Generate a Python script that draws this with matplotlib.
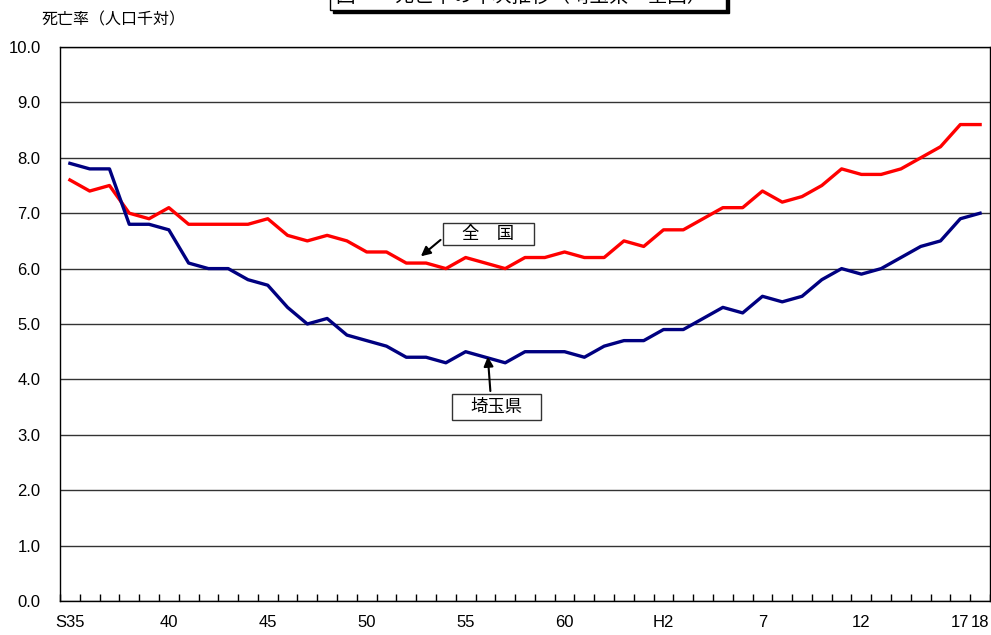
import matplotlib
matplotlib.use('Agg')
import matplotlib.pyplot as plt
from matplotlib.patches import Rectangle
import numpy as np

plt.rcParams['font.family'] = ['Liberation Sans', 'Noto Sans CJK JP', 'DejaVu Sans']
jp = ['Noto Sans CJK JP', 'DejaVu Sans']

# 昭和35年(1960) ～ 平成18年(2006)
years = list(range(1960, 2007))
saitama = [7.9, 7.8, 7.8, 6.8, 6.8, 6.7, 6.1, 6.0, 6.0, 5.8,
           5.7, 5.3, 5.0, 5.1, 4.8, 4.7, 4.6, 4.4, 4.4, 4.3,
           4.5, 4.4, 4.3, 4.5, 4.5, 4.5, 4.4, 4.6, 4.7, 4.7,
           4.9, 4.9, 5.1, 5.3, 5.2, 5.5, 5.4, 5.5, 5.8, 6.0,
           5.9, 6.0, 6.2, 6.4, 6.5, 6.9, 7.0]
zenkoku = [7.6, 7.4, 7.5, 7.0, 6.9, 7.1, 6.8, 6.8, 6.8, 6.8,
           6.9, 6.6, 6.5, 6.6, 6.5, 6.3, 6.3, 6.1, 6.1, 6.0,
           6.2, 6.1, 6.0, 6.2, 6.2, 6.3, 6.2, 6.2, 6.5, 6.4,
           6.7, 6.7, 6.9, 7.1, 7.1, 7.4, 7.2, 7.3, 7.5, 7.8,
           7.7, 7.7, 7.8, 8.0, 8.2, 8.6, 8.6]
tick_idx = [0, 5, 10, 15, 20, 25, 30, 35, 40, 45, 46]
tick_labels = ['S35', '40', '45', '50', '55', '60', 'H2', '7', '12', '17', '18']

fig = plt.figure(figsize=(9.91, 6.35), dpi=100)
ax = fig.add_axes([60/991, 34/635, 930/991, 554/635])

x = np.arange(len(years))
ax.plot(x, zenkoku, color='#ff0000', lw=2.4, zorder=3)
ax.plot(x, saitama, color='#000080', lw=2.4, zorder=3)

ax.set_xlim(-0.5, len(years) - 0.5)
ax.set_ylim(0, 10)
ax.set_yticks(np.arange(0, 10.1, 1.0))
ax.set_yticklabels([f'{v:.1f}' for v in np.arange(0, 10.1, 1.0)], fontsize=12)
ax.yaxis.grid(True, color='#333333', lw=1.0)
ax.tick_params(axis='y', length=0, pad=14)

ax.set_xticks(tick_idx)
ax.set_xticklabels(tick_labels, fontsize=12)
ax.set_xticks(np.arange(-0.5, len(years)), minor=True)
ax.tick_params(axis='x', which='major', length=0, pad=10)
ax.tick_params(axis='x', which='minor', direction='in', length=5, width=1)
for s in ax.spines.values():
    s.set_color('black')
    s.set_linewidth(1.0)

# labels with arrows
ax.add_patch(Rectangle((18.84, 6.43), 4.59, 0.39, facecolor='white',
                       edgecolor='#333333', lw=1.0, zorder=4))
ax.text(21.14, 6.625, '全　国', ha='center', va='center', fontsize=12.5,
        family=jp, zorder=5)
ax.annotate('', xy=(17.63, 6.19), xytext=(18.84, 6.55),
            arrowprops=dict(arrowstyle='-|>', color='black', lw=1.5,
                            mutation_scale=14), zorder=5)

ax.add_patch(Rectangle((19.29, 3.27), 4.5, 0.47, facecolor='white',
                       edgecolor='#333333', lw=1.0, zorder=4))
ax.text(21.54, 3.5, '埼玉県', ha='center', va='center', fontsize=12.5,
        family=jp, zorder=5)
ax.annotate('', xy=(21.11, 4.46), xytext=(21.26, 3.74),
            arrowprops=dict(arrowstyle='-|>', color='black', lw=1.5,
                            mutation_scale=14), zorder=5)

fig.text(42/991, 1 - 20/635, '死亡率（人口千対）', fontsize=11.5, family=jp,
         va='center', ha='left')

# title box (cut off at top)
fig.patches.append(Rectangle((333/991, 1 - 13/635), 396/991, 0.1,
                             transform=fig.transFigure, facecolor='black',
                             edgecolor='black', zorder=1))
fig.patches.append(Rectangle((330/991, 1 - 10/635), 396/991, 0.1,
                             transform=fig.transFigure, facecolor='white',
                             edgecolor='black', lw=1.0, zorder=2))
fig.text(336/991, 1 - 7/635, '図　　死亡率の年次推移（埼玉県・全国）',
         fontsize=14, family=jp, va='bottom', ha='left', zorder=3)

fig.savefig('out.png', dpi=100)
